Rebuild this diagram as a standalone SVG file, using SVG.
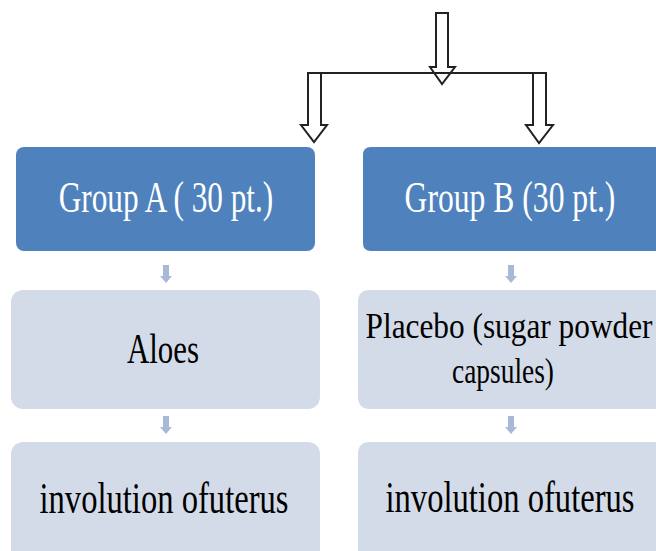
<svg xmlns="http://www.w3.org/2000/svg" width="656" height="551" viewBox="0 0 656 551">
<style>
.head{fill:#4F81BD}
.sub{fill:#D4DBE8}
.t{font-family:"Liberation Serif","Times New Roman",serif;text-anchor:middle}
.tw{fill:#FFFFFF}
.tb{fill:#000000}
.out{fill:#FFFFFF;stroke:#222222;stroke-width:2;stroke-linejoin:miter}
.sm{fill:#A8B9D6}
</style>
<rect width="656" height="551" fill="#FFFFFF"/>
<g id="connectors">
<path class="out" d="M436,13 H448 V67 H455 L442,84 L430,67 H436 Z"/>
<line x1="308" y1="73" x2="546" y2="73" stroke="#222222" stroke-width="2"/>
<path class="out" d="M308,73 H321 V125 H327 L314,142 L301,125 H308 Z"/>
<path class="out" d="M533,73 H546 V125 H553 L539,143 L526,125 H533 Z"/>
<path class="sm" d="M163,265 H169 V276 H172 L166,283 L160,276 H163 Z"/>
<path class="sm" d="M508,265 H514 V276 H517 L511,283 L505,276 H508 Z"/>
<path class="sm" d="M163,416 H169 V427 H172 L166,434 L160,427 H163 Z"/>
<path class="sm" d="M508,416 H514 V427 H517 L511,434 L505,427 H508 Z"/>
</g>
<g id="groupA">
<rect class="head" x="16" y="147" width="299" height="104" rx="8"/>
<text class="t tw" transform="translate(166,212) scale(0.711,1)" font-size="44">Group A ( 30 pt.)</text>
</g>
<g id="groupB">
<path class="head" d="M371,147 H656 V251 H371 Q363,251 363,243 V155 Q363,147 371,147 Z"/>
<text class="t tw" transform="translate(510,212) scale(0.719,1)" font-size="44">Group B (30 pt.)</text>
</g>
<g id="aloes">
<rect class="sub" x="11" y="290" width="309" height="119" rx="12"/>
<text class="t tb" transform="translate(163,363) scale(0.735,1)" font-size="42">Aloes</text>
</g>
<g id="placebo">
<path class="sub" d="M370,290 H656 V409 H370 Q358,409 358,397 V302 Q358,290 370,290 Z"/>
<text class="t tb" transform="translate(509,338) scale(0.895,1)" font-size="35">Placebo (sugar powder</text>
<text class="t tb" transform="translate(503,383) scale(0.783,1)" font-size="35">capsules)</text>
</g>
<g id="involutionA">
<rect class="sub" x="11" y="442" width="309" height="130" rx="12"/>
<text class="t tb" transform="translate(164,513) scale(0.741,1)" font-size="44">involution ofuterus</text>
</g>
<g id="involutionB">
<path class="sub" d="M370,442 H656 V551 H358 V454 Q358,442 370,442 Z"/>
<text class="t tb" transform="translate(510,512) scale(0.741,1)" font-size="44">involution ofuterus</text>
</g>
</svg>
